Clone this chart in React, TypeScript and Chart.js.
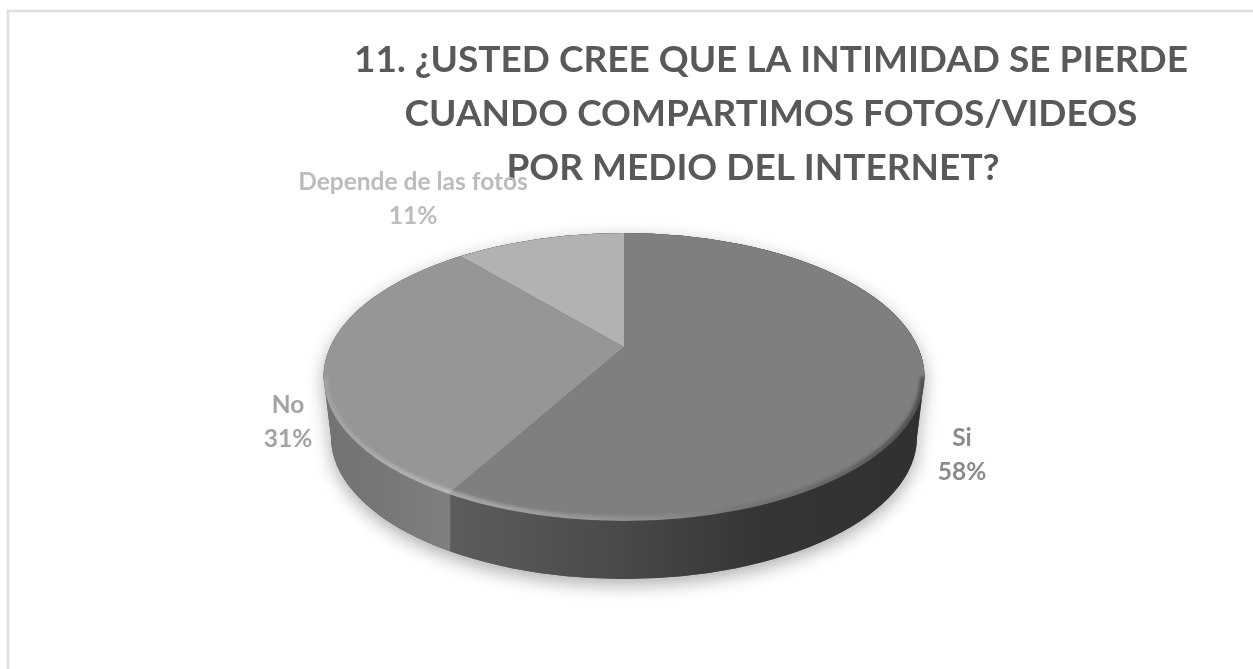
import React, { useEffect, useRef } from "react";
import { Chart, registerables } from "chart.js";

Chart.register(...registerables);

const categories = ["Si", "No", "Depende de las fotos"];
const seriesValues = [58, 31, 11];
const percentLabels = ["58%", "31%", "11%"];
const sliceColors = ["#7f7f7f", "#969696", "#b2b2b2"];
const labelColors = ["#8a8a8a", "#a3a3a3", "#bcbcbc"];
const titleLines = [
  "11. ¿USTED CREE QUE LA INTIMIDAD SE PIERDE",
  "CUANDO COMPARTIMOS FOTOS/VIDEOS",
  "POR MEDIO DEL INTERNET?\u00a0\u00a0\u00a0\u00a0",
];

const W = 1253;
const H = 669;
const FONT = "Lato, Carlito, sans-serif";

// Tilted-disc geometry
const APEX = { x: 624, y: 347 };
const TILT = 0.46;
const TOP = { cx: 624, cy: 377, rx: 300.5, ry: 144 };
const BOTTOM = { cx: 624, cy: 437, rx: 293, ry: 142 };
const LABEL_ANCHORS = [
  { x: 962, y1: 438, y2: 472 },
  { x: 288, y1: 405, y2: 439 },
  { x: 413, y1: 182, y2: 216 },
];

function ellipsePath(ctx: CanvasRenderingContext2D, e: typeof TOP) {
  ctx.beginPath();
  ctx.ellipse(e.cx, e.cy, e.rx, e.ry, 0, 0, Math.PI * 2);
}

function hullPath(ctx: CanvasRenderingContext2D) {
  ctx.beginPath();
  ctx.ellipse(TOP.cx, TOP.cy, TOP.rx, TOP.ry, 0, Math.PI, 0);
  ctx.lineTo(BOTTOM.cx + BOTTOM.rx, BOTTOM.cy);
  ctx.ellipse(BOTTOM.cx, BOTTOM.cy, BOTTOM.rx, BOTTOM.ry, 0, 0, Math.PI);
  ctx.closePath();
}

// Where a slice boundary (chart.js angle) meets the rim of the top ellipse.
function rimPoint(angle: number) {
  const dx = Math.cos(angle);
  const dy = Math.sin(angle) * TILT;
  const ox = APEX.x - TOP.cx;
  const oy = APEX.y - TOP.cy;
  const a = (dx * dx) / (TOP.rx * TOP.rx) + (dy * dy) / (TOP.ry * TOP.ry);
  const b = 2 * ((ox * dx) / (TOP.rx * TOP.rx) + (oy * dy) / (TOP.ry * TOP.ry));
  const c = (ox * ox) / (TOP.rx * TOP.rx) + (oy * oy) / (TOP.ry * TOP.ry) - 1;
  const t = (-b + Math.sqrt(b * b - 4 * a * c)) / (2 * a);
  return { x: APEX.x + dx * t, y: APEX.y + dy * t };
}

const disc3d = {
  id: "disc3d",
  beforeDraw(chart: any) {
    const ctx = chart.ctx as CanvasRenderingContext2D;
    ctx.save();
    ctx.fillStyle = "#ffffff";
    ctx.fillRect(0, 0, W, H);
    ctx.strokeStyle = "#dedede";
    ctx.lineWidth = 2.5;
    ctx.strokeRect(8, 11, 1400, 800);
    ctx.restore();
  },
  beforeDatasetsDraw(chart: any) {
    const ctx = chart.ctx as CanvasRenderingContext2D;
    const arcs = chart.getDatasetMeta(0).data;
    const splitX = rimPoint(arcs[0].endAngle).x + 2;

    // soft drop shadow
    ctx.save();
    ctx.shadowColor = "rgba(0,0,0,0.32)";
    ctx.shadowBlur = 18;
    ctx.shadowOffsetY = 6;
    ctx.shadowOffsetX = 0;
    ctx.fillStyle = "#555";
    hullPath(ctx);
    ctx.fill();
    ctx.restore();

    // side wall, split where the first slice ends
    ctx.save();
    ctx.beginPath();
    ctx.rect(0, 0, splitX, H);
    ctx.clip();
    const gl = ctx.createLinearGradient(TOP.cx - TOP.rx, 0, splitX, 0);
    gl.addColorStop(0, "#727272");
    gl.addColorStop(0.55, "#787878");
    gl.addColorStop(1, "#808080");
    ctx.fillStyle = gl;
    hullPath(ctx);
    ctx.fill();
    ctx.restore();

    ctx.save();
    ctx.beginPath();
    ctx.rect(splitX, 0, W, H);
    ctx.clip();
    const gr = ctx.createLinearGradient(splitX, 0, TOP.cx + TOP.rx, 0);
    gr.addColorStop(0, "#5d5d5d");
    gr.addColorStop(0.35, "#4a4a4a");
    gr.addColorStop(0.65, "#353535");
    gr.addColorStop(1, "#303030");
    ctx.fillStyle = gr;
    hullPath(ctx);
    ctx.fill();
    ctx.restore();

    // top face: chart.js arcs, tilted around the apex and clipped to the rim
    ctx.save();
    ellipsePath(ctx, TOP);
    ctx.clip();
    arcs.forEach((arc: any) => {
      ctx.save();
      ctx.translate(APEX.x, APEX.y);
      ctx.scale(1, TILT);
      ctx.translate(-arc.x, -arc.y);
      arc.draw(ctx);
      ctx.restore();
    });

    // bevel around the front rim
    const bevel = ctx.createLinearGradient(TOP.cx - TOP.rx, 0, TOP.cx + TOP.rx, 0);
    bevel.addColorStop(0, "rgba(255,255,255,0.10)");
    bevel.addColorStop(0.21, "rgba(255,255,255,0.32)");
    bevel.addColorStop(0.5, "rgba(255,255,255,0.14)");
    bevel.addColorStop(0.68, "rgba(90,90,90,0.2)");
    bevel.addColorStop(1, "rgba(40,40,40,0.55)");
    ctx.filter = "blur(1.5px)";
    ctx.strokeStyle = bevel;
    ctx.lineWidth = 7;
    ctx.beginPath();
    ctx.ellipse(TOP.cx, TOP.cy, TOP.rx - 1, TOP.ry - 1, 0, 0, Math.PI);
    ctx.stroke();
    ctx.restore();

    return false;
  },
  afterDraw(chart: any) {
    const ctx = chart.ctx as CanvasRenderingContext2D;
    ctx.save();
    ctx.font = `bold 24.5px ${FONT}`;
    ctx.textAlign = "center";
    ctx.textBaseline = "middle";
    categories.forEach((name, i) => {
      const a = LABEL_ANCHORS[i];
      ctx.fillStyle = labelColors[i];
      ctx.fillText(name, a.x, a.y1);
      ctx.fillText(percentLabels[i], a.x, a.y2);
    });
    ctx.restore();
  },
};

export default function App() {
  const ref = useRef<HTMLCanvasElement>(null);
  useEffect(() => {
    const chart = new Chart(ref.current!, {
      type: "pie",
      data: {
        labels: categories,
        datasets: [
          {
            data: seriesValues,
            backgroundColor: sliceColors,
            borderWidth: 0,
            radius: 600,
          },
        ],
      },
      options: {
        responsive: false,
        animation: false,
        events: [],
        layout: { padding: { left: 289, top: 33 } },
        plugins: {
          legend: { display: false },
          tooltip: { enabled: false },
          title: {
            display: true,
            fullSize: false,
            text: titleLines,
            color: "#595959",
            font: { family: FONT, size: 37, weight: "bold", lineHeight: 1.46 },
            padding: 0,
          },
        },
      } as any,
      plugins: [disc3d],
    });
    return () => chart.destroy();
  }, []);
  return (
    <canvas
      ref={ref}
      width={W}
      height={H}
      style={{ position: "fixed", left: 0, top: 0, width: W, height: H, display: "block" }}
    />
  );
}
